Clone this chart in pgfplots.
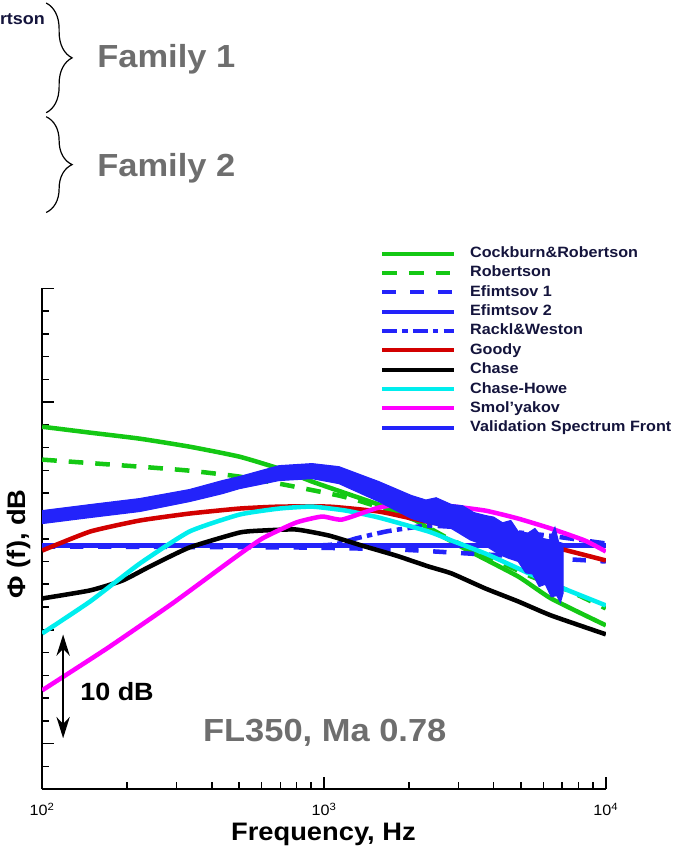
\documentclass[border=0pt]{standalone}
\usepackage{fontspec}
\setmainfont{Liberation Sans}[FakeStretch=1.08]
\usepackage{pgfplots}
\pgfplotsset{compat=1.18}
\usetikzlibrary{decorations.pathreplacing,arrows.meta}
\definecolor{cgreen}{RGB}{20,200,20}
\definecolor{cblue}{RGB}{35,35,250}
\definecolor{cred}{RGB}{210,0,0}
\definecolor{ccyan}{RGB}{0,238,238}
\definecolor{cmag}{RGB}{255,0,255}
\definecolor{ltext}{RGB}{20,20,60}
\definecolor{gtext}{RGB}{110,110,110}
\begin{document}
\begin{tikzpicture}
\begin{scope}[x=0.75pt,y=-0.75pt]
\useasboundingbox (0,0) rectangle (677,850);
\end{scope}
\begin{axis}[
  at={(31.5pt,-593.25pt)}, anchor=south west,
  scale only axis, width=423.75pt, height=376.5pt,
  xmode=log, xmin=100, xmax=10000, ymin=0, ymax=44,
  axis x line*=bottom, axis y line*=left,
  axis line style={line width=1.8pt,-},
  xtick pos=bottom, ytick pos=left,
  xtick={100,1000,10000},
  xticklabels={10\textsuperscript{2},10\textsuperscript{3},10\textsuperscript{4}},
  minor xtick={200,300,400,500,600,700,800,900,2000,3000,4000,5000,6000,7000,8000,9000},
  ytick={4,14,24,34,44}, yticklabels={},
  minor ytick={0,2,...,44},
  tick align=inside,
  major tick length=9pt, minor tick length=5pt,
  every tick/.style={black,line width=1.2pt},
  ticklabel style={font=\fontsize{11.25}{13}\selectfont},
  xticklabel style={yshift=-7pt},
  xlabel={Frequency, Hz},
  ylabel={Φ (f), dB},
  every axis x label/.style={at={(axis description cs:0.499,0)},anchor=base,yshift=-38.5pt,font=\bfseries\fontsize{19}{22}\selectfont},
  every axis y label/.style={at={(axis description cs:-0.0407,0.49)},anchor=center,rotate=90,font=\bfseries\fontsize{19}{22}\selectfont},
  legend cell align=left,
  legend style={at={(0.600,1.084)}, anchor=north west, draw=none, fill=none,
    inner sep=0pt, outer sep=0pt, row sep=3.55pt, column sep=10.5pt,
    font=\bfseries\fontsize{11.25}{13}\selectfont, text=ltext,
    nodes={inner sep=0pt, text height=8.5pt, text depth=2.5pt}},
  legend image code/.code={\draw[#1, line width=3pt, line cap=butt] (0pt,0pt) -- (54pt,0pt);},
]
\addplot[cgreen, /tikz/line width=3.4pt, smooth, tension=0.3] coordinates {(100,31.84) (148,31.32) (222,30.79) (333,30.09) (501,29.21) (693,28.16) (907,27.02) (1177,26.05) (1527,25.09) (1997,24.04) (2350,22.89) (3253,20.96) (4887,18.68) (6393,16.75) (10000,14.39)};
\addlegendentry{Cockburn\&Robertson}
\addplot[cgreen, /tikz/line width=3.4pt, smooth, tension=0.3, dash pattern=on 11pt off 9pt] coordinates {(100,28.95) (222,28.33) (333,27.98) (501,27.46) (752,26.67) (1130,25.79) (1362,25.26) (1697,24.47) (2114,23.60) (2765,22.02) (4153,20.00) (5433,18.68) (7340,17.46) (10000,15.88)};
\addlegendentry{Robertson}
\addplot[cblue, /tikz/line width=3.4pt, smooth, tension=0.3, dash pattern=on 10pt off 11pt] coordinates {(100,21.32) (816,21.23) (1840,21.05) (3253,20.70) (5750,20.35) (10000,20.00)};
\addlegendentry{Efimtsov 1}
\addplot[cblue, /tikz/line width=3.4pt] coordinates {(100,21.40) (1000,21.40) (10000,21.40)};
\addlegendentry{Efimtsov 2}
\addplot[cblue, /tikz/line width=3.4pt, smooth, tension=0.3, dash pattern=on 11pt off 4pt on 4pt off 4pt] coordinates {(100,21.40) (885,21.40) (1130,21.58) (1297,22.02) (1656,22.63) (2046,22.98) (2350,23.16) (3529,22.89) (6238,22.28) (10000,21.58)};
\addlegendentry{Rackl\&Weston}
\addplot[cred, /tikz/line width=3.4pt, smooth, tension=0.3] coordinates {(100,20.96) (148,22.63) (222,23.60) (333,24.21) (501,24.65) (693,24.82) (1041,24.82) (1565,24.39) (2220,23.60) (4256,22.28) (6393,21.32) (10000,20.09)};
\addlegendentry{Goody}
\addplot[black, /tikz/line width=3.4pt, smooth, tension=0.3] coordinates {(100,16.75) (148,17.46) (193,18.33) (241,19.56) (333,21.23) (501,22.54) (604,22.72) (796,22.81) (1041,22.28) (1362,21.40) (1797,20.53) (2350,19.56) (2835,18.95) (3736,17.63) (4887,16.49) (6393,15.26) (10000,13.60)};
\addlegendentry{Chase}
\addplot[ccyan, /tikz/line width=3.4pt, smooth, tension=0.3] coordinates {(100,13.68) (148,16.49) (222,19.82) (333,22.63) (501,24.12) (693,24.65) (907,24.82) (1196,24.47) (1565,23.86) (2350,22.63) (2835,21.84) (3736,20.70) (4887,19.39) (6393,18.07) (10000,16.14)};
\addlegendentry{Chase-Howe}
\addplot[cmag, /tikz/line width=3.4pt, smooth, tension=0.3] coordinates {(100,8.68) (170,12.37) (290,16.32) (473,20.18) (604,22.02) (796,23.42) (984,23.95) (1158,23.68) (1565,24.74) (1997,25.09) (2698,24.91) (3736,24.47) (4887,23.77) (6393,22.89) (8429,21.84) (10000,20.88)};
\addlegendentry{Smol’yakov}
\addplot[draw=cblue, fill=cblue, line width=0.8pt,
  legend image code/.code={\draw[cblue, line width=3pt] (0pt,0pt) -- (54pt,0pt);}]
  coordinates {(100,24.47) (148,25.00) (222,25.53) (333,26.32) (436,27.11) (501,27.46) (693,28.42) (907,28.60) (1130,28.33) (1565,27.02) (2046,25.79) (2300,25.4) (2500,25.6) (2835,25.00) (3100,24.9) (3400,24.3) (3736,24.04) (4000,23.9) (4300,23.4) (4600,23.6) (4887,22.63) (5300,22.5) (5600,22.9) (5990,22.02) (6300,21.9) (6600,23.0) (6800,21.7) (7050,21.58)
  (7050,17.19) (6900,16.4) (6700,17.0) (6400,16.9) (6100,18.0) (5800,17.8) (5500,18.9) (5200,19.0) (4887,20.00) (4500,20.3) (4200,20.6) (3736,21.40) (3300,21.9) (2835,22.89) (2350,23.33) (2046,23.77) (1565,25.26) (1130,26.84) (907,27.28) (693,27.11) (501,26.40) (436,25.96) (333,25.26) (222,24.39) (148,23.86) (100,23.33)} -- cycle;
\addlegendentry{Validation Spectrum Front}
\end{axis}
\begin{scope}[x=0.75pt,y=-0.75pt]
\node[anchor=base east, inner sep=0pt, font=\bfseries\fontsize{12.5}{14}\selectfont, text=ltext] at (45,25) {rtson};
\draw[line width=0.9pt, decorate, decoration={brace, amplitude=19.5pt}] (46,3) -- (46,113);
\draw[line width=0.9pt, decorate, decoration={brace, amplitude=19.5pt}] (46,117) -- (46,213);
\node[anchor=base west, inner sep=0pt, font=\bfseries\fontsize{24}{28}\selectfont, text=gtext] at (97,68) {Family 1};
\node[anchor=base west, inner sep=0pt, font=\bfseries\fontsize{24}{28}\selectfont, text=gtext] at (97,177) {Family 2};
\draw[line width=1.5pt, {Stealth[length=16pt,width=10pt]}-{Stealth[length=16pt,width=10pt]}] (63,636) -- (63,740);
\node[anchor=base west, inner sep=0pt, font=\bfseries\fontsize{18.75}{22}\selectfont] at (80,702) {10 dB};
\node[anchor=base west, inner sep=0pt, font=\bfseries\fontsize{24}{28}\selectfont, text=gtext] at (203,743) {FL350, Ma 0.78};
\end{scope}
\end{tikzpicture}
\end{document}
